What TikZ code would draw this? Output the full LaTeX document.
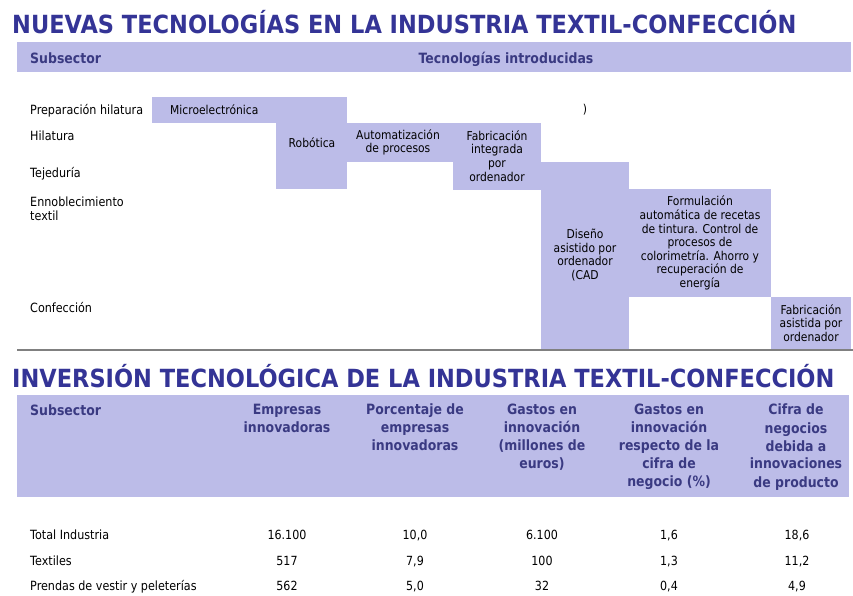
\documentclass[tikz,border=0pt]{standalone}
\usepackage{fontspec}
\setmainfont[FakeStretch=0.88]{DejaVu Sans}
\newfontfamily\titlefont[FakeStretch=0.90]{DejaVu Sans}
\definecolor{tt_lav}{RGB}{188, 188, 232}
\definecolor{tt_title}{RGB}{52, 52, 150}
\definecolor{tt_head}{RGB}{58, 58, 130}
\tikzstyle{cell}=[fill=tt_lav]
\tikzstyle{ttl}=[anchor=base west,inner sep=0pt,text=tt_title,
  font=\titlefont\bfseries\fontsize{25}{30}\selectfont]
\tikzstyle{hd}=[inner sep=0pt,text=tt_head,align=center,
  font=\bfseries\fontsize{14.2}{18}\selectfont]
\tikzstyle{lb}=[anchor=base west,inner sep=0pt,align=left,
  font=\fontsize{12.7}{13.5}\selectfont]
\tikzstyle{bx}=[inner sep=0pt,align=center,
  font=\fontsize{12.2}{13.6}\selectfont]
\tikzstyle{dt}=[anchor=base,inner sep=0pt,
  font=\fontsize{12.6}{14}\selectfont]
\tikzstyle{none}=[]

\begin{document}
\begin{tikzpicture}[x=1pt, y=-1pt]
            \useasboundingbox (0, 0) rectangle (853, 595);
            % first table
            \fill [style=cell] (17, 42) rectangle (851, 72);
            \fill [style=cell] (152, 97) rectangle (347, 123);
            \fill [style=cell] (276, 123) rectangle (347, 189);
            \fill [style=cell] (347, 123) rectangle (453, 162);
            \fill [style=cell] (453, 123) rectangle (541, 190);
            \fill [style=cell] (541, 162) rectangle (629, 350);
            \fill [style=cell] (629, 189) rectangle (771, 297);
            \fill [style=cell] (771, 297) rectangle (851, 350);
            \draw [line width=2pt, color=gray] (17, 350) to (853, 350);
            \node [style=ttl] (0) at (12, 33) {NUEVAS TECNOLOGÍAS EN LA INDUSTRIA TEXTIL-CONFECCIÓN};
            \node [style=hd, anchor=base west] (1) at (30, 63) {Subsector};
            \node [style=hd, anchor=base] (2) at (506, 63) {Tecnologías introducidas};
            \node [style=lb] (3) at (30, 114) {Preparación hilatura};
            \node [style=lb] (4) at (30, 140) {Hilatura};
            \node [style=lb] (5) at (30, 177) {Tejeduría};
            \node [style=lb, anchor=north west] (6) at (30, 197) {Ennoblecimiento\\textil};
            \node [style=lb] (7) at (30, 312) {Confección};
            \node [style=bx, anchor=west] (8) at (170, 110) {Microelectrónica};
            \node [style=bx] (9) at (312, 143) {Robótica};
            \node [style=bx] (10) at (398, 142.5) {Automatización\\de procesos};
            \node [style=bx] (11) at (497, 156) {Fabricación\\integrada\\por\\ordenador};
            \node [style=bx] (12) at (585, 110) {)};
            \node [style=bx] (13) at (585, 255) {Diseño\\asistido por\\ordenador\\(CAD};
            \node [style=bx] (14) at (700, 243) {Formulación\\automática de recetas\\de tintura. Control de\\procesos de\\colorimetría. Ahorro y\\recuperación de\\energía};
            \node [style=bx] (15) at (811, 323) {Fabricación\\asistida por\\ordenador};
            % second table
            \fill [style=cell] (17, 395) rectangle (849, 497);
            \node [style=ttl] (16) at (12, 387) {INVERSIÓN TECNOLÓGICA DE LA INDUSTRIA TEXTIL-CONFECCIÓN};
            \node [style=hd, anchor=base west] (17) at (30, 415) {Subsector};
            \node [style=hd, anchor=north] (18) at (287, 404) {Empresas\\innovadoras};
            \node [style=hd, anchor=north] (19) at (415, 404) {Porcentaje de\\empresas\\innovadoras};
            \node [style=hd, anchor=north] (20) at (542, 404) {Gastos en\\innovación\\(millones de\\euros)};
            \node [style=hd, anchor=north] (21) at (669, 404) {Gastos en\\innovación\\respecto de la\\cifra de\\negocio (\%)};
            \node [style=hd, anchor=north] (22) at (796, 404) {Cifra de\\negocios\\debida a\\innovaciones\\de producto};
            \node [style=lb] (23) at (30, 539) {Total Industria};
            \node [style=lb] (24) at (30, 565) {Textiles};
            \node [style=lb] (25) at (30, 590) {Prendas de vestir y peleterías};
            \node [style=dt] (26) at (287, 539) {16.100};
            \node [style=dt] (27) at (415, 539) {10,0};
            \node [style=dt] (28) at (542, 539) {6.100};
            \node [style=dt] (29) at (669, 539) {1,6};
            \node [style=dt] (30) at (797, 539) {18,6};
            \node [style=dt] (31) at (287, 565) {517};
            \node [style=dt] (32) at (415, 565) {7,9};
            \node [style=dt] (33) at (542, 565) {100};
            \node [style=dt] (34) at (669, 565) {1,3};
            \node [style=dt] (35) at (797, 565) {11,2};
            \node [style=dt] (36) at (287, 590) {562};
            \node [style=dt] (37) at (415, 590) {5,0};
            \node [style=dt] (38) at (542, 590) {32};
            \node [style=dt] (39) at (669, 590) {0,4};
            \node [style=dt] (40) at (797, 590) {4,9};
    \end{tikzpicture}
\end{document}
